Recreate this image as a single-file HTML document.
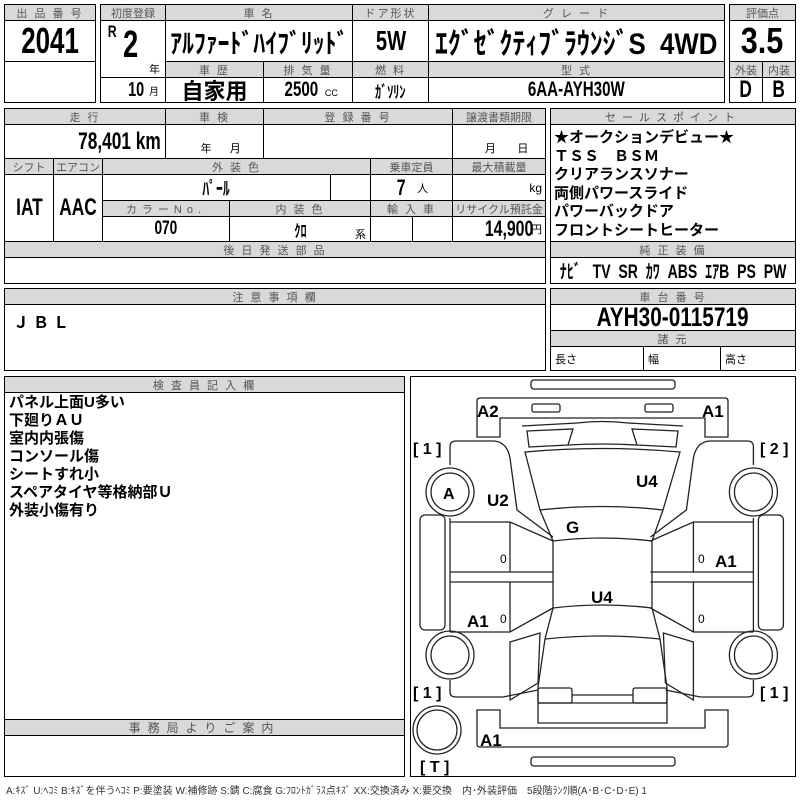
<!DOCTYPE html>
<html><head><meta charset="utf-8"><style>
body{margin:0;width:800px;height:800px;background:#fff;position:relative;overflow:hidden;font-family:"Liberation Sans","Noto Sans CJK JP",sans-serif;}
.c{position:absolute;border:1px solid #000;box-sizing:border-box;display:flex;align-items:center;justify-content:center;white-space:nowrap;color:#000;}
.h{background:#d9d9d9;color:#555;font-size:11px;letter-spacing:2px;}
.b{font-weight:bold;}
.n{font-weight:bold;}
.s{display:inline-block;transform:scaleX(.72);}
.sr{display:inline-block;transform:scaleX(.72);transform-origin:right center;}
.t{position:absolute;white-space:nowrap;}
</style></head><body>
<!-- box 1 -->
<div class="c h" style="left:4px;top:4px;width:92px;height:17px">出 品 番 号</div>
<div class="c n" style="left:4px;top:20px;width:92px;height:42px;font-size:36px"><span class="s">2041</span></div>
<div class="c" style="left:4px;top:61px;width:92px;height:42px"></div>
<!-- box 2 -->
<div class="c h" style="left:100px;top:4px;width:66px;height:17px;letter-spacing:0">初度登録</div>
<div class="c h" style="left:165px;top:4px;width:188px;height:17px">車 名</div>
<div class="c h" style="left:352px;top:4px;width:77px;height:17px">ドア形状</div>
<div class="c h" style="left:428px;top:4px;width:297px;height:17px">グ レ ー ド</div>
<div class="c" style="left:100px;top:20px;width:66px;height:58px"></div>
<div class="t n" style="left:106px;top:22px;font-size:17px"><span class="s">R</span></div>
<div class="t n" style="left:120px;top:24px;font-size:38px"><span class="s">2</span></div>
<div class="t" style="left:149px;top:61px;font-size:11px">年</div>
<div class="c" style="left:100px;top:77px;width:66px;height:26px;justify-content:flex-end;padding-right:6px"><span class="n" style="font-size:20px"><span class="s">10</span></span><span style="font-size:10px;margin-left:2px">月</span></div>
<div class="c n" style="left:165px;top:20px;width:188px;height:42px;font-size:27px"><span class="s" style="transform:scaleX(.88)">ｱﾙﾌｧｰﾄﾞﾊｲﾌﾞﾘｯﾄﾞ</span></div>
<div class="c n" style="left:352px;top:20px;width:77px;height:42px;font-size:28px"><span class="s">5W</span></div>
<div class="c n" style="left:428px;top:20px;width:297px;height:42px;font-size:30px"><span class="s" style="transform:scaleX(.86)">ｴｸﾞｾﾞｸﾃｨﾌﾞﾗｳﾝｼﾞS&nbsp;&nbsp;4WD</span></div>
<div class="c h" style="left:165px;top:61px;width:99px;height:17px">車 歴</div>
<div class="c h" style="left:263px;top:61px;width:90px;height:17px">排 気 量</div>
<div class="c h" style="left:352px;top:61px;width:77px;height:17px">燃 料</div>
<div class="c h" style="left:428px;top:61px;width:297px;height:17px">型 式</div>
<div class="c b" style="left:165px;top:77px;width:99px;height:26px;font-size:22px">自家用</div>
<div class="c" style="left:263px;top:77px;width:90px;height:26px"><span class="n" style="font-size:21px"><span class="s">2500</span></span><span style="font-size:9px;margin:6px 0 0 0">CC</span></div>
<div class="c n" style="left:352px;top:77px;width:77px;height:26px;font-size:17px"><span class="s">ｶﾞｿﾘﾝ</span></div>
<div class="c n" style="left:428px;top:77px;width:297px;height:26px;font-size:21px"><span class="s">6AA-AYH30W</span></div>
<!-- 評価点 -->
<div class="c h" style="left:729px;top:4px;width:67px;height:17px;letter-spacing:0">評価点</div>
<div class="c n" style="left:729px;top:20px;width:67px;height:42px;font-size:36px"><span class="s" style="transform:scaleX(.85)">3.5</span></div>
<div class="c h" style="left:729px;top:61px;width:34px;height:17px;letter-spacing:0">外装</div>
<div class="c h" style="left:762px;top:61px;width:34px;height:17px;letter-spacing:0">内装</div>
<div class="c n" style="left:729px;top:77px;width:34px;height:26px;font-size:24px"><span class="s">D</span></div>
<div class="c n" style="left:762px;top:77px;width:34px;height:26px;font-size:24px"><span class="s">B</span></div>
<!-- section 2 left -->
<div class="c h" style="left:4px;top:108px;width:162px;height:17px">走 行</div>
<div class="c h" style="left:165px;top:108px;width:99px;height:17px">車 検</div>
<div class="c h" style="left:263px;top:108px;width:190px;height:17px">登 録 番 号</div>
<div class="c h" style="left:452px;top:108px;width:94px;height:17px;letter-spacing:0">譲渡書類期限</div>
<div class="c n" style="left:4px;top:124px;width:162px;height:35px;font-size:24px;justify-content:flex-end;padding-right:4px"><span class="sr">78,401 km</span></div>
<div class="c" style="left:165px;top:124px;width:99px;height:35px;font-size:11px;align-items:flex-end;padding-bottom:2px">&nbsp;&nbsp;&nbsp;&nbsp;年&nbsp;&nbsp;&nbsp;&nbsp;&nbsp;&nbsp;月</div>
<div class="c" style="left:263px;top:124px;width:190px;height:35px"></div>
<div class="c" style="left:452px;top:124px;width:94px;height:35px;font-size:11px;align-items:flex-end;padding-bottom:2px">&nbsp;&nbsp;&nbsp;&nbsp;&nbsp;月&nbsp;&nbsp;&nbsp;&nbsp;&nbsp;&nbsp;&nbsp;日</div>
<div class="c h" style="left:4px;top:158px;width:50px;height:17px;letter-spacing:0">シフト</div>
<div class="c h" style="left:53px;top:158px;width:50px;height:17px;letter-spacing:0">エアコン</div>
<div class="c h" style="left:102px;top:158px;width:269px;height:17px">外 装 色</div>
<div class="c h" style="left:370px;top:158px;width:83px;height:17px;letter-spacing:0">乗車定員</div>
<div class="c h" style="left:452px;top:158px;width:94px;height:17px;letter-spacing:0">最大積載量</div>
<div class="c n" style="left:4px;top:174px;width:50px;height:68px;font-size:24px"><span class="s">IAT</span></div>
<div class="c n" style="left:53px;top:174px;width:50px;height:68px;font-size:24px"><span class="s">AAC</span></div>
<div class="c n" style="left:102px;top:174px;width:229px;height:27px;font-size:19px"><span class="s">ﾊﾟｰﾙ</span></div>
<div class="c" style="left:330px;top:174px;width:41px;height:27px"></div>
<div class="c" style="left:370px;top:174px;width:83px;height:27px"><span class="n" style="font-size:22px"><span class="s">7</span></span><span style="font-size:11px;margin-left:10px">人</span></div>
<div class="c" style="left:452px;top:174px;width:94px;height:27px;font-size:12px;justify-content:flex-end;padding-right:3px">kg</div>
<div class="c h" style="left:102px;top:200px;width:128px;height:17px;letter-spacing:5px">カラーNo.</div>
<div class="c h" style="left:229px;top:200px;width:142px;height:17px">内 装 色</div>
<div class="c h" style="left:370px;top:200px;width:83px;height:17px">輸 入 車</div>
<div class="c h" style="left:452px;top:200px;width:94px;height:17px;letter-spacing:0">リサイクル預託金</div>
<div class="c n" style="left:102px;top:216px;width:128px;height:26px;font-size:19px"><span class="s">070</span></div>
<div class="c n" style="left:229px;top:216px;width:142px;height:26px;font-size:17px"><span class="s">ｸﾛ</span></div>
<div class="t" style="left:355px;top:226px;font-size:11px">系</div>
<div class="c" style="left:370px;top:216px;width:43px;height:26px"></div>
<div class="c" style="left:412px;top:216px;width:41px;height:26px"></div>
<div class="c" style="left:452px;top:216px;width:94px;height:26px;justify-content:flex-end;padding-right:3px"><span class="n" style="font-size:22px;margin-right:-2px"><span class="sr">14,900</span></span><span style="font-size:11px">円</span></div>
<div class="c h" style="left:4px;top:241px;width:542px;height:17px">後 日 発 送 部 品</div>
<div class="c" style="left:4px;top:257px;width:542px;height:27px"></div>
<!-- section 2 right -->
<div class="c h" style="left:550px;top:108px;width:246px;height:17px;letter-spacing:6px">セールスポイント</div>
<div class="c" style="left:550px;top:124px;width:246px;height:118px;display:block;padding:4px 0 0 3px;font-size:15px;font-weight:bold;line-height:18.5px">★オークションデビュー★<br>ＴＳＳ　ＢＳＭ<br>クリアランスソナー<br>両側パワースライド<br>パワーバックドア<br>フロントシートヒーター</div>
<div class="c h" style="left:550px;top:241px;width:246px;height:17px">純 正 装 備</div>
<div class="c n" style="left:550px;top:257px;width:246px;height:27px;font-size:19px"><span class="s" style="transform:scaleX(.74)">ﾅﾋﾞ&nbsp;&nbsp; TV&nbsp; SR&nbsp; ｶﾜ&nbsp; ABS&nbsp; ｴｱB&nbsp; PS&nbsp; PW</span></div>
<!-- section 3 -->
<div class="c h" style="left:4px;top:288px;width:542px;height:17px">注 意 事 項 欄</div>
<div class="c" style="left:4px;top:304px;width:542px;height:67px;display:block;padding:4px 0 0 8px;font-size:16px;font-weight:bold;letter-spacing:4px">ＪＢＬ</div>
<div class="c h" style="left:550px;top:288px;width:246px;height:17px">車 台 番 号</div>
<div class="c n" style="left:550px;top:304px;width:246px;height:27px;font-size:27px"><span class="s" style="transform:scaleX(.77)">AYH30-0115719</span></div>
<div class="c h" style="left:550px;top:330px;width:246px;height:17px">諸 元</div>
<div class="c" style="left:550px;top:346px;width:94px;height:25px;font-size:11px;justify-content:flex-start;padding-left:4px">長さ</div>
<div class="c" style="left:643px;top:346px;width:78px;height:25px;font-size:11px;justify-content:flex-start;padding-left:4px">幅</div>
<div class="c" style="left:720px;top:346px;width:76px;height:25px;font-size:11px;justify-content:flex-start;padding-left:4px">高さ</div>
<!-- section 4 -->
<div class="c h" style="left:4px;top:376px;width:401px;height:17px">検 査 員 記 入 欄</div>
<div class="c" style="left:4px;top:392px;width:401px;height:328px;display:block;padding:1px 0 0 4px;font-size:15px;font-weight:bold;line-height:18px">パネル上面U多い<br>下廻りＡＵ<br>室内内張傷<br>コンソール傷<br>シートすれ小<br>スペアタイヤ等格納部Ｕ<br>外装小傷有り</div>
<div class="c h" style="left:4px;top:719px;width:401px;height:17px;font-size:12px;letter-spacing:7px">事務局よりご案内</div>
<div class="c" style="left:4px;top:735px;width:401px;height:42px"></div>
<div class="c" style="left:410px;top:376px;width:386px;height:401px"></div>
<div class="t" style="left:6px;top:782px;font-size:10px;color:#333">A:ｷｽﾞ U:ﾍｺﾐ B:ｷｽﾞを伴うﾍｺﾐ P:要塗装 W:補修跡 S:錆 C:腐食 G:ﾌﾛﾝﾄｶﾞﾗｽ点ｷｽﾞ XX:交換済み X:要交換　内･外装評価　5段階ﾗﾝｸ順(A･B･C･D･E) 1</div>
<svg style="position:absolute;left:0;top:0" width="800" height="800" viewBox="0 0 800 800">
<g fill="none" stroke="#222" stroke-width="1.3">
<rect x="531" y="380" width="144" height="9" rx="3"/>
<rect x="531" y="757" width="144" height="9" rx="3"/>
<path d="M480,398 H725 Q728,398 728,401 V437 H705 V418 H500 V437 H477 V401 Q477,398 480,398 Z"/>
<path d="M480,747 H725 Q728,747 728,744 V710 H705 V728 H500 V710 H477 V744 Q477,747 480,747 Z"/>
<rect x="532" y="404" width="28" height="8" rx="2"/>
<rect x="645" y="404" width="28" height="8" rx="2"/>
<path d="M522,426 L577,423 M527,431 L573,429 L568,445 L529,447 Z"/>
<path d="M683,426 L628,423 M678,431 L632,429 L637,445 L676,447 Z"/>
<path d="M577,423 Q602,420 628,423 M568,445 Q602,443 637,445"/>
<path d="M525,452 Q602,445 680,452 L663,510 L652,541 V608 L660,639 L667,687 V723 H538 V687 L545,639 L553,608 V541 L540,510 Z"/>
<path d="M540,510 Q602,503 663,510 M553,541 Q602,535 652,541 M553,608 Q602,602 652,608 M545,639 Q602,633 660,639"/>
<rect x="538" y="688" width="34" height="15" rx="2"/>
<rect x="633" y="688" width="34" height="15" rx="2"/>
<path d="M572,695 H633 M538,703 H667"/>
<g id="side">
<path d="M450,465 V447 Q450,441 456,441 H494 Q507,442 510,458 L517,510 L553,537"/>
<path d="M450,522 H510 L553,541 M510,522 V572 M450,572 H553 M450,582 H553 M510,582 V632 M450,632 H510 L553,608"/>
<path d="M450,518 V632"/>
<path d="M510,642 L540,633 L538,683 L510,700 Z"/>
<path d="M450,680 V692 Q450,697 456,697 H503 L538,690"/>
<rect x="420" y="515" width="25" height="115" rx="5"/>
<circle cx="450" cy="492" r="24"/><circle cx="450" cy="492" r="19"/>
<circle cx="450" cy="655" r="24"/><circle cx="450" cy="655" r="19"/>
</g>
<use href="#side" transform="translate(1203.4,0) scale(-1,1)"/>
<circle cx="437" cy="730" r="24"/><circle cx="437" cy="730" r="20"/>
</g>
<g font-family="Liberation Sans, sans-serif" font-weight="bold" fill="#000">
<text x="477" y="417" font-size="17">A2</text>
<text x="702" y="417" font-size="17">A1</text>
<text x="443" y="499" font-size="16">A</text>
<text x="487" y="506" font-size="17">U2</text>
<text x="636" y="487" font-size="17">U4</text>
<text x="566" y="533" font-size="17">G</text>
<text x="715" y="567" font-size="17">A1</text>
<text x="591" y="603" font-size="17">U4</text>
<text x="467" y="627" font-size="17">A1</text>
<text x="480" y="746" font-size="17">A1</text>
<text x="413" y="454" font-size="16">[ 1 ]</text>
<text x="760" y="454" font-size="16">[ 2 ]</text>
<text x="413" y="698" font-size="16">[ 1 ]</text>
<text x="760" y="698" font-size="16">[ 1 ]</text>
<text x="420" y="772" font-size="16">[ T ]</text>
</g>
<g font-family="Liberation Sans, sans-serif" font-size="12" fill="#000">
<text x="500" y="563">0</text><text x="500" y="623">0</text>
<text x="698" y="563">0</text><text x="698" y="623">0</text>
</g>
</svg>
</body></html>
